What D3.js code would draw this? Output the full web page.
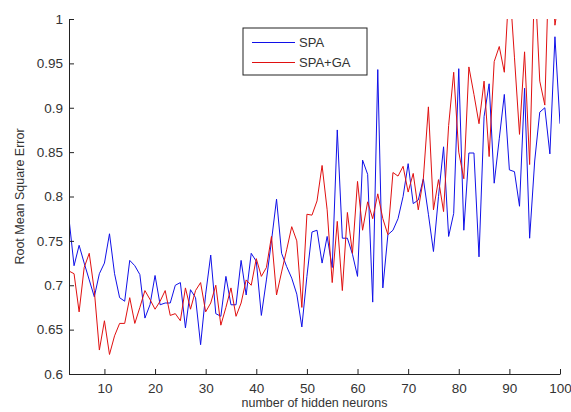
<!DOCTYPE html>
<html>
<head>
<meta charset="utf-8">
<script src="https://cdn.jsdelivr.net/npm/d3@7"></script>
<style>
  body { margin: 0; background: #fff; }
  svg { display: block; font-family: "Liberation Sans", Arial, sans-serif; }
</style>
</head>
<body>
<svg id="chart" width="571" height="412"></svg>
<script>
/// data ///
const neurons = [3, 4, 5, 6, 7, 8, 9, 10, 11, 12, 13, 14, 15, 16, 17, 18, 19, 20,
  21, 22, 23, 24, 25, 26, 27, 28, 29, 30, 31, 32, 33, 34, 35, 36, 37, 38, 39, 40,
  41, 42, 43, 44, 45, 46, 47, 48, 49, 50, 51, 52, 53, 54, 55, 56, 57, 58, 59, 60,
  61, 62, 63, 64, 65, 66, 67, 68, 69, 70, 71, 72, 73, 74, 75, 76, 77, 78, 79, 80,
  81, 82, 83, 84, 85, 86, 87, 88, 89, 90, 91, 92, 93, 94, 95, 96, 97, 98, 99, 100];

const spa = [0.775, 0.722, 0.745, 0.725, 0.706, 0.687, 0.713, 0.725, 0.758, 0.713,
  0.686, 0.682, 0.728, 0.722, 0.712, 0.663, 0.678, 0.711, 0.678, 0.680,
  0.680, 0.700, 0.703, 0.652, 0.695, 0.686, 0.633, 0.690, 0.734, 0.668,
  0.665, 0.710, 0.678, 0.678, 0.728, 0.689, 0.736, 0.727, 0.666, 0.706,
  0.750, 0.797, 0.736, 0.721, 0.708, 0.690, 0.653, 0.710, 0.760, 0.762,
  0.725, 0.755, 0.720, 0.875, 0.753, 0.753, 0.735, 0.710, 0.841, 0.825,
  0.681, 0.943, 0.697, 0.757, 0.762, 0.775, 0.800, 0.837, 0.792, 0.796,
  0.820, 0.780, 0.738, 0.800, 0.856, 0.755, 0.781, 0.944, 0.762, 0.849,
  0.849, 0.732, 0.890, 0.927, 0.815, 0.865, 0.915, 0.830, 0.828, 0.789,
  0.922, 0.753, 0.840, 0.895, 0.900, 0.848, 0.980, 0.882];

const spaGa = [0.716, 0.713, 0.670, 0.720, 0.736, 0.694, 0.627, 0.660, 0.622, 0.643,
  0.657, 0.657, 0.686, 0.657, 0.675, 0.694, 0.684, 0.673, 0.682, 0.694,
  0.666, 0.668, 0.660, 0.697, 0.673, 0.694, 0.703, 0.670, 0.680, 0.700,
  0.655, 0.675, 0.697, 0.665, 0.680, 0.706, 0.700, 0.730, 0.710, 0.720,
  0.755, 0.689, 0.715, 0.740, 0.766, 0.750, 0.675, 0.780, 0.779, 0.795,
  0.835, 0.785, 0.703, 0.772, 0.694, 0.782, 0.736, 0.817, 0.762, 0.794,
  0.775, 0.803, 0.775, 0.757, 0.827, 0.823, 0.834, 0.805, 0.826, 0.785,
  0.820, 0.901, 0.785, 0.819, 0.783, 0.880, 0.940, 0.850, 0.820, 0.946,
  0.915, 0.882, 0.930, 0.845, 0.952, 0.969, 0.940, 1.043, 0.957, 0.870,
  0.963, 0.836, 1.050, 0.930, 0.903, 1.100, 0.993, 1.030];

const seriesNames = ["SPA", "SPA+GA"];
const xTicks = [10, 20, 30, 40, 50, 60, 70, 80, 90, 100];
const yTicks = [0.6, 0.65, 0.7, 0.75, 0.8, 0.85, 0.9, 0.95, 1];

/// layout ///
const plotLeft = 69, plotRight = 560, plotTop = 19, plotBottom = 374;
const colours = ["#1010e8", "#e01010"];
const textColour = "#333";

const svg = d3.select("#chart");

const x = d3.scaleLinear().domain([3, 100]).range([plotLeft, plotRight]);
const y = d3.scaleLinear().domain([0.6, 1]).range([plotBottom, plotTop]);

// clip lines at the plot box (values above 1 are cut off)
svg.append("defs").append("clipPath").attr("id", "plot-clip")
  .append("rect")
    .attr("x", plotLeft).attr("y", plotTop)
    .attr("width", plotRight - plotLeft).attr("height", plotBottom - plotTop);

const line = d3.line()
  .x((d, i) => x(neurons[i]))
  .y(d => y(d));

const lines = svg.append("g").attr("clip-path", "url(#plot-clip)");
[spa, spaGa].forEach((s, k) => {
  lines.append("path")
    .datum(s)
    .attr("d", line)
    .attr("fill", "none")
    .attr("stroke", colours[k])
    .attr("stroke-width", 1)
    .attr("stroke-linejoin", "round");
});

// axes, ticks pointing inward
const xAxis = svg.append("g")
  .attr("transform", `translate(0,${plotBottom})`)
  .call(d3.axisBottom(x).tickValues(xTicks).tickSizeInner(-5).tickSizeOuter(0).tickPadding(9));

const yAxis = svg.append("g")
  .attr("transform", `translate(${plotLeft},0)`)
  .call(d3.axisLeft(y).tickValues(yTicks).tickFormat(d => String(+d.toFixed(2)))
    .tickSizeInner(-5).tickSizeOuter(0).tickPadding(6));

[xAxis, yAxis].forEach(a => {
  a.select(".domain").attr("stroke", "#222");
  a.selectAll(".tick line").attr("stroke", "#222");
  a.selectAll(".tick text")
    .attr("fill", textColour)
    .attr("font-size", "13.5px")
    .attr("font-family", "Liberation Sans, Arial, sans-serif");
});

// axis titles
svg.append("text")
  .attr("x", (plotLeft + plotRight) / 2)
  .attr("y", 407)
  .attr("text-anchor", "middle")
  .attr("font-size", "12.5px")
  .attr("fill", textColour)
  .text("number of hidden neurons");

svg.append("text")
  .attr("transform", `translate(24,${(plotTop + plotBottom) / 2}) rotate(-90)`)
  .attr("text-anchor", "middle")
  .attr("font-size", "12.5px")
  .attr("fill", textColour)
  .text("Root Mean Square Error");

// legend
const legend = svg.append("g").attr("transform", "translate(243,28)");
legend.append("rect")
  .attr("width", 124).attr("height", 47)
  .attr("fill", "#fff").attr("stroke", "#222").attr("stroke-width", 1);

seriesNames.forEach((name, k) => {
  const ly = 14.5 + k * 20;
  legend.append("line")
    .attr("x1", 9).attr("x2", 52)
    .attr("y1", ly).attr("y2", ly)
    .attr("stroke", colours[k]).attr("stroke-width", 1);
  legend.append("text")
    .attr("x", 56).attr("y", ly)
    .attr("dy", "0.35em")
    .attr("font-size", "13px")
    .attr("fill", textColour)
    .text(name);
});
</script>
</body>
</html>
